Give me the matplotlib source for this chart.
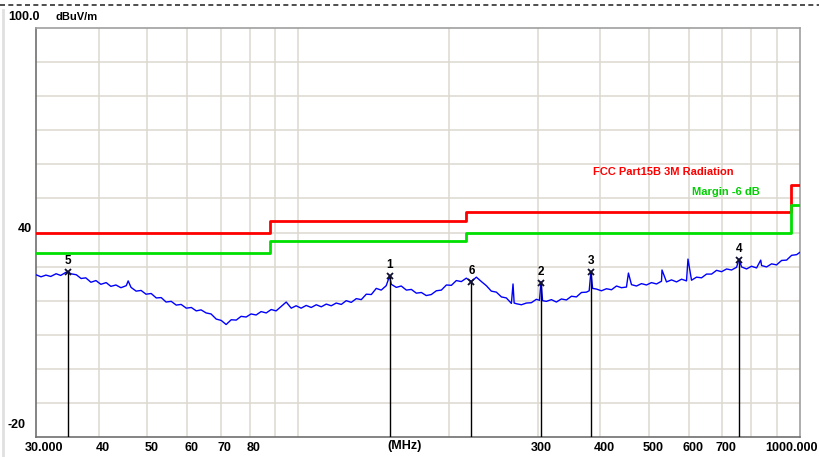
import numpy as np
import matplotlib
matplotlib.use('Agg')
import matplotlib.pyplot as plt
from matplotlib.lines import Line2D

# limit lines (FCC Part 15B, 3 m) and -6 dB margin
lim_f = [30, 88, 216, 960, 1000]
lim_db = [40, 43.5, 46, 54, 54]
margin_db = [34, 37.5, 40, 48, 48]

trace = [(30, 27.6), (30.7, 27.0), (31.4, 27.5), (32.1, 27.1), (32.9, 27.9), (33.6, 27.4),
         (34.4, 28.3), (34.8, 28.4), (35.2, 27.9), (36.1, 27.6), (36.9, 26.5), (37.7, 26.7),
         (38.6, 25.4), (39.5, 25.9), (40.4, 24.8), (41.4, 25.3), (42.3, 24.2), (43.3, 24.6),
         (44.3, 23.8), (45.4, 24.4), (45.8, 25.8), (46.4, 23.9), (47.5, 22.8), (48.6, 23.0),
         (49.7, 21.9), (50.9, 22.1), (52.1, 20.8), (53.3, 20.9), (54.5, 19.6), (55.8, 19.8),
         (57.1, 18.7), (58.4, 18.9), (59.8, 17.8), (61.2, 18.0), (62.6, 17.0), (64.0, 17.3),
         (65.5, 16.4), (67.0, 16.1), (68.6, 14.6), (70.2, 14.2), (71.8, 13.0), (73.5, 14.4),
         (75.2, 14.3), (76.9, 15.4), (78.7, 15.2), (80.5, 16.1), (82.4, 15.8), (84.3, 16.8),
         (86.3, 16.4), (88.3, 17.4), (90.3, 17.0), (92.4, 18.3), (94.6, 19.6), (96.8, 17.8),
         (99.0, 18.5), (101.3, 17.8), (103.7, 18.6), (106.1, 18.0), (108.6, 18.8), (111.1, 18.2),
         (113.7, 19.0), (116.3, 18.5), (119.0, 19.3), (121.8, 18.9), (124.6, 20.0), (127.5, 19.5),
         (130.5, 20.6), (133.5, 20.3), (136.6, 21.9), (139.8, 21.8), (143.0, 23.6), (146.3, 23.1),
         (149.7, 24.4), (152.0, 27.2), (153.2, 24.8), (156.8, 23.9), (160.4, 24.3), (164.2, 23.1),
         (168.0, 23.3), (171.9, 22.2), (175.9, 22.4), (179.9, 21.5), (184.1, 21.8), (188.4, 22.9),
         (192.8, 23.1), (197.3, 24.6), (201.9, 24.5), (206.5, 25.9), (211.3, 25.6), (216.2, 26.6),
         (221.3, 25.6), (226.4, 26.9), (231.7, 25.6), (237.0, 24.4), (242.5, 22.8), (248.2, 22.5),
         (254.0, 21.1), (259.8, 20.8), (265.9, 19.2), (267.9, 24.9), (269.3, 19.3), (272.1, 19.1),
         (278.4, 18.8), (284.8, 19.3), (291.4, 19.4), (298.2, 20.4), (302.5, 20.1), (304.6, 25.6),
         (306.8, 20.0), (312.2, 19.8), (319.5, 20.3), (326.9, 19.6), (334.5, 20.5), (342.3, 20.2),
         (350.3, 21.3), (358.4, 21.1), (366.7, 22.4), (375.2, 22.5), (380.0, 22.9), (383.0, 28.5),
         (386.0, 23.6), (392.9, 23.4), (402.0, 22.9), (411.4, 23.5), (421.0, 23.2), (430.7, 24.3),
         (440.7, 23.8), (450.9, 24.0), (455.0, 28.1), (461.4, 24.7), (472.1, 24.3), (483.1, 25.0),
         (494.3, 24.6), (505.8, 25.3), (517.6, 24.9), (529.6, 25.7), (530.8, 29.0), (541.9, 25.5),
         (554.5, 26.1), (567.4, 25.5), (580.6, 26.3), (594.0, 25.8), (598.0, 32.2), (607.8, 26.0),
         (622.0, 26.9), (636.4, 26.7), (651.2, 27.8), (666.4, 27.8), (681.8, 28.9), (697.7, 28.5),
         (713.9, 29.3), (730.5, 29.0), (747.4, 29.8), (756.0, 32.2), (764.8, 29.9), (782.5, 29.3),
         (800.7, 30.1), (819.3, 29.6), (835.0, 31.9), (838.4, 30.3), (857.8, 29.9), (877.7, 30.8),
         (898.1, 30.5), (919.0, 31.8), (940.3, 31.9), (962.2, 33.3), (984.5, 33.5), (1000, 34.2)]
trace_f = [p[0] for p in trace]
trace_db = [p[1] for p in trace]

# peak markers
mk_no = ['5', '1', '6', '2', '3', '4']
mk_f = [34.8, 152.0, 221.3, 304.6, 383.0, 756.0]
mk_db = [28.4, 27.2, 25.6, 25.3, 28.5, 31.9]

xt = [30, 40, 50, 60, 70, 80, 300, 400, 500, 600, 700, 1000]
xt_lab = ['30.000', '40', '50', '60', '70', '80', '300', '400', '500', '600', '700', '1000.000']
xgrid = [40, 50, 60, 70, 80, 90, 100, 200, 300, 400, 500, 600, 700, 800, 900]

plt.rcParams['font.family'] = ['Liberation Sans', 'DejaVu Sans']

fig = plt.figure(figsize=(8.19, 4.57), dpi=100)
ax = fig.add_axes([36/819, 1-437/457, 764/819, 409/457])
ax.set_xscale('log')
ax.set_xlim(30, 1000)
ax.set_ylim(-20, 100)

for g in xgrid:
    ax.axvline(g, color='#dcd8d0', lw=1.1, zorder=0)
for g in range(-10, 100, 10):
    ax.axhline(g, color='#dcd8d0', lw=1.1, zorder=0)

ax.step(lim_f, lim_db, where='post', color='#ff0000', lw=2, zorder=3)
ax.step(lim_f, margin_db, where='post', color='#00e000', lw=2, zorder=3)
ax.plot(trace_f, trace_db, color='#0000ff', lw=1.0, zorder=4)

for n, f, v in zip(mk_no, mk_f, mk_db):
    ax.plot([f, f], [-20, v], color='black', lw=1, zorder=5)
    ax.plot(f, v, marker='x', color='#101030', ms=5, mew=1.3, zorder=6)
    ax.annotate(n, (f, v), xytext=(0, 3.5), textcoords='offset points',
                ha='center', va='bottom', fontsize=8.5, fontweight='bold')

ax.set_xticks([])
ax.set_yticks([])
ax.xaxis.set_minor_locator(matplotlib.ticker.NullLocator())
for s in ['top', 'right']:
    ax.spines[s].set_color('#a0a0a0')
for s in ['left', 'bottom']:
    ax.spines[s].set_color('#707070')
for s in ax.spines.values():
    s.set_linewidth(1.2)

# x labels
for t, lab in zip(xt, xt_lab):
    dx = 4
    if t == 30:
        dx = 8
    if t == 1000:
        dx = -9
    ax.annotate(lab, (t, 0), xycoords=('data', 'axes fraction'), xytext=(dx, -5),
                textcoords='offset pixels', ha='center', va='top', fontsize=9, fontweight='bold')
fig.text(405/819, 1-446/457, '(MHz)', ha='center', va='center', fontsize=9, fontweight='bold')

# y labels
fig.text(8/819, 1-17/457, '100.0', ha='left', va='center', fontsize=9, fontweight='bold')
fig.text(55/819, 1-17/457, 'dBuV/m', ha='left', va='center', fontsize=8, fontweight='bold')
fig.text(32/819, 1-229/457, '40', ha='right', va='center', fontsize=9, fontweight='bold')
fig.text(26/819, 1-425/457, '-20', ha='right', va='center', fontsize=9, fontweight='bold')

# legend texts
fig.text(593/819, 1-172/457, 'FCC Part15B 3M Radiation', color='#ff0000', ha='left',
         va='center', fontsize=8, fontweight='bold')
fig.text(692/819, 1-192/457, 'Margin -6 dB', color='#00d000', ha='left',
         va='center', fontsize=8, fontweight='bold')

# window frame bits
fig.add_artist(Line2D([0, 1], [1-5/457, 1-5/457], color='#303030', lw=1.2, ls=(0, (3, 2))))
fig.add_artist(Line2D([3/819, 3/819], [0, 1-10/457], color='#e0e0e0', lw=2))

fig.savefig('out.png', dpi=100)
